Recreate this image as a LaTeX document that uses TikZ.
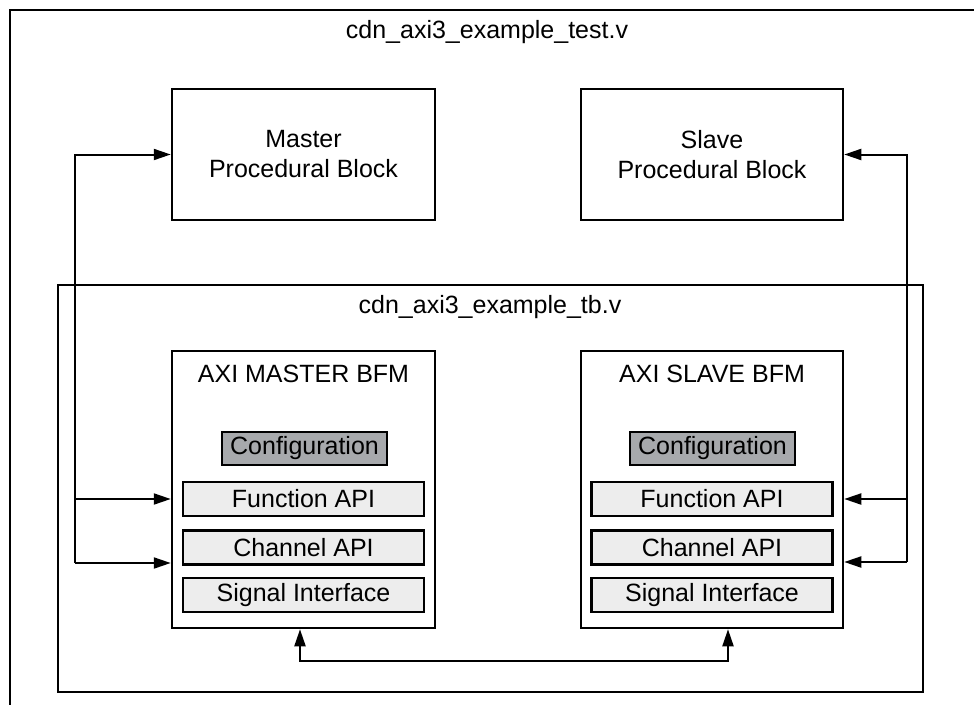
\documentclass[tikz,border=0pt]{standalone}
\usepackage{fontspec}
\setmainfont{Liberation Sans}
\usetikzlibrary{arrows.meta,positioning}
\definecolor{cfggray}{HTML}{A7A9AC}
\definecolor{apigray}{HTML}{EDEDED}

\begin{document}
\begin{tikzpicture}[x=1pt, y=-1pt, >={Triangle[length=17pt,width=11pt]},
    every node/.style={font=\fontsize{25}{30}\selectfont, inner sep=0pt},
    blk/.style={draw, rectangle, line width=2.5pt},
    cfgbox/.style={draw, line width=2.2pt, fill=cfggray, minimum width=165pt, minimum height=33pt},
    apibox/.style={draw, line width=2.2pt, fill=apigray, minimum width=241pt, minimum height=34pt},
    link/.style={->, line width=2pt}]
        \clip (0,0) rectangle (974,704);
        % test file and testbench frames
        \node[blk, minimum width=1000pt, minimum height=800pt] (test) at (510,410) {};
        \node (testname) at (487,32) {cdn\_axi3\_example\_test.v};
        \node[blk, minimum width=865pt, minimum height=407pt] (tb) at (490.5,488.5) {};
        \node (tbname) at (490,307) {cdn\_axi3\_example\_tb.v};
        % procedural blocks
        \node[blk, minimum width=263pt, minimum height=131pt, align=center] (mpb) at (303.5,154.5) {Master\\Procedural Block};
        \node[blk, minimum width=262pt, minimum height=131pt, align=center] (spb) at (712,154.5) {Slave\\Procedural Block};
        % bus functional models
        \node[blk, minimum width=263pt, minimum height=277pt] (mbfm) at (303.5,489.5) {};
        \node[blk, minimum width=262pt, minimum height=277pt] (sbfm) at (712,489.5) {};
        \node (mname) at (303.5,374) {AXI MASTER BFM};
        \node (sname) at (712,374) {AXI SLAVE BFM};
        \node[cfgbox] (mcfg) at (304.5,448.5) {Configuration};
        \node[cfgbox] (scfg) at (712.5,448.5) {Configuration};
        \foreach \n/\t/\y in {fn/Function API/499, ch/Channel API/547.5, sig/Signal Interface/595} {
            \node[apibox] (m\n) at (303.5,\y) {\t};
            \node[apibox] (s\n) at (712,\y) {\t};
        }
        % master side connections
        \coordinate (lbus) at (75,563);
        \draw[link] (lbus) |- (mpb.west);
        \draw[link] (lbus |- mfn) -- (mbfm.west |- mfn);
        \draw[link] (lbus) -- (mbfm.west |- lbus);
        % slave side connections
        \coordinate (rbus) at (907,562);
        \draw[link] (rbus) |- (spb.east);
        \draw[link] (rbus |- sfn) -- (sbfm.east |- sfn);
        \draw[link] (rbus) -- (sbfm.east |- rbus);
        % signal link between the BFMs
        \coordinate (mtap) at (300,661);
        \coordinate (stap) at (728,661);
        \draw[link, <->] (mbfm.south -| mtap) -- (mtap) -- (stap) -- (sbfm.south -| stap);
    \end{tikzpicture}
\end{document}
